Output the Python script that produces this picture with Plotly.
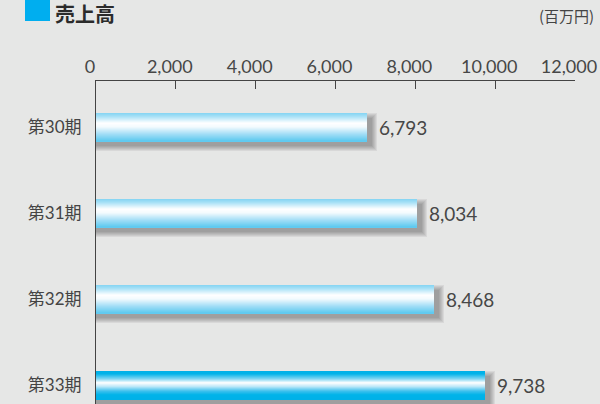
import plotly.graph_objects as go

# Sales per fiscal period (millions of yen)
periods = ["第30期", "第31期", "第32期", "第33期"]
sales = [6793, 8034, 8468, 9738]
highlight = [False, False, False, True]
x_ticks = [0, 2000, 4000, 6000, 8000, 10000, 12000]

W, H = 600, 404
ML, MR, MT, MB = 96, 25, 81, 0
X_MAX = 12000
plot_w = W - ML - MR
plot_h = H - MT - MB
y_top, y_bot = -0.535, 3.22
px_x = X_MAX / plot_w
px_y = (y_bot - y_top) / plot_h
bar_h = 28 * px_y


def hex2rgb(h):
    h = h.lstrip("#")
    return tuple(int(h[i:i + 2], 16) for i in (0, 2, 4))


def ramp(stops, t):
    for (t0, c0), (t1, c1) in zip(stops, stops[1:]):
        if t0 <= t <= t1:
            f = 0 if t1 == t0 else (t - t0) / (t1 - t0)
            a, b = hex2rgb(c0), hex2rgb(c1)
            return "rgb(%d,%d,%d)" % tuple(round(a[i] + (b[i] - a[i]) * f) for i in range(3))
    return stops[-1][1]


light_stops = [(0.0, "#84d4f3"), (0.12, "#a6e0f6"), (0.36, "#ffffff"),
               (0.5, "#f2fafe"), (0.75, "#a3def6"), (1.0, "#5cc9ef")]
dark_stops = [(0.0, "#00afe7"), (0.1, "#00b2e8"), (0.28, "#7fd5f3"), (0.42, "#ffffff"),
              (0.55, "#bfe9f9"), (0.72, "#3cc0ed"), (0.85, "#00b3e9"), (1.0, "#00b1e8")]

fig = go.Figure()

# soft drop shadow, offset down-right
SH = 5
for k in range(6):
    e = k * 1.0
    fig.add_trace(go.Bar(
        y=periods, x=[v + (SH + e) * px_x for v in sales], orientation="h",
        width=(28 + 2 * e) * px_y, offset=-bar_h / 2 + (SH - e) * px_y,
        marker=dict(color="rgba(50,50,50,0.08)", line=dict(width=0)),
        hoverinfo="skip", showlegend=False))

# glossy bars built from thin horizontal strips
N = 28
for i in range(N):
    t = (i + 0.5) / N
    cols = [ramp(dark_stops if hl else light_stops, t) for hl in highlight]
    fig.add_trace(go.Bar(
        y=periods, x=sales, orientation="h",
        width=bar_h / N * 1.08, offset=-bar_h / 2 + i * bar_h / N,
        marker=dict(color=cols, line=dict(width=0)),
        hoverinfo="skip", showlegend=False))

# value labels
for p, v in zip(periods, sales):
    fig.add_annotation(x=v, y=p, xref="x", yref="y", text=f"{v:,}",
                       xanchor="left", yanchor="middle", xshift=10, showarrow=False,
                       font=dict(family="Lato, 'Noto Sans CJK JP'", size=19, color="#474747"))


def py(ypix):
    return 1 + (MT - ypix) / plot_h


def px(xpix):
    return (xpix - ML) / plot_w


# heading marker and title
fig.add_shape(type="rect", xref="paper", yref="paper",
              x0=px(25), x1=px(50), y0=py(21), y1=py(-4),
              fillcolor="#00aeef", line=dict(width=0))
fig.add_annotation(xref="paper", yref="paper", x=px(53), y=py(-3), text="<b>売上高</b>",
                   xanchor="left", yanchor="top", showarrow=False,
                   font=dict(family="Noto Sans CJK JP", size=20, color="#2b2b2b"))
fig.add_annotation(xref="paper", yref="paper", x=px(596), y=py(15), text="(百万円)",
                   xanchor="right", yanchor="middle", showarrow=False,
                   font=dict(family="Noto Sans CJK JP", size=15, color="#444444"))

fig.update_layout(
    width=W, height=H, margin=dict(l=ML, r=MR, t=MT, b=MB),
    paper_bgcolor="#e6e7e6", plot_bgcolor="#e6e7e6",
    barmode="overlay", bargap=0, showlegend=False,
    xaxis=dict(side="top", range=[0, X_MAX], tickvals=x_ticks, tickformat=",",
               ticks="inside", ticklen=8, tickcolor="#444444", showgrid=False,
               zeroline=False, showline=True, linecolor="#444444", linewidth=1,
               ticklabeloverflow="allow", ticklabelshift=-6,
               tickfont=dict(family="Lato", size=18, color="#474747")),
    yaxis=dict(type="category", categoryarray=periods, range=[y_bot, y_top],
               showgrid=False, zeroline=False, showline=True, linecolor="#444444",
               linewidth=1, ticks="", ticklabelstandoff=10,
               tickfont=dict(family="Lato, 'Noto Sans CJK JP'", size=17, color="#444444")),
)

fig.write_html("out.html")
